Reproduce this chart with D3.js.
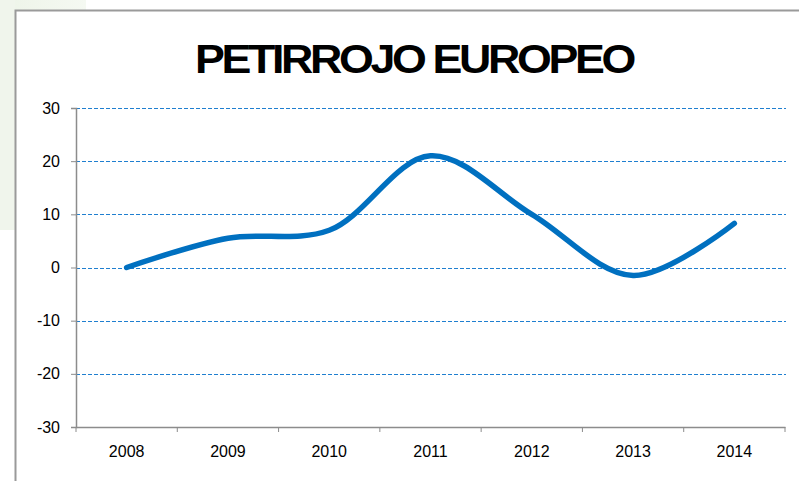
<!DOCTYPE html>
<html>
<head>
<meta charset="utf-8">
<script src="https://cdn.jsdelivr.net/npm/d3@7"></script>
<style>
  body { margin: 0; background: #fff; }
  svg { display: block; font-family: "Liberation Sans", Arial, sans-serif; }
</style>
</head>
<body>
<div id="chart"></div>
<script>
const years = ["2008", "2009", "2010", "2011", "2012", "2013", "2014"];
const values = [0, 5.5, 7, 21, 10, -1.5, 8.3];
const yTicks = [-30, -20, -10, 0, 10, 20, 30];
const title = "PETIRROJO EUROPEO";

const width = 799, height = 481;
const margin = { top: 108, right: 14, bottom: 54, left: 76 };

const svg = d3.select("#chart").append("svg")
  .attr("width", width)
  .attr("height", height);

// faint green background in the top-left corner
const grad = svg.append("defs").append("linearGradient")
  .attr("id", "bg").attr("x1", 0).attr("x2", 1);
grad.append("stop").attr("offset", "0%").attr("stop-color", "#edf4e8");
grad.append("stop").attr("offset", "100%").attr("stop-color", "#f5f9f2");
svg.append("rect").attr("x", 0).attr("y", 0).attr("width", 86).attr("height", 10).attr("fill", "url(#bg)");
svg.append("rect").attr("x", 0).attr("y", 0).attr("width", 15).attr("height", 230).attr("fill", "#f0f5ec");

// chart frame
svg.append("path")
  .attr("d", `M15.5,${height} V10.5 H${width}`)
  .attr("fill", "none")
  .attr("stroke", "#9a9a9a")
  .attr("stroke-width", 2);

const x = d3.scaleBand().domain(years).range([margin.left, width - margin.right]);
const y = d3.scaleLinear().domain([-30, 30]).range([height - margin.bottom, margin.top]);

svg.append("text")
  .attr("x", 195).attr("y", 73)
  .attr("textLength", 438)
  .attr("lengthAdjust", "spacingAndGlyphs")
  .attr("font-size", 40)
  .attr("font-weight", "bold")
  .attr("letter-spacing", -3)
  .attr("fill", "#000")
  .text(title);

// gridlines
svg.append("g")
  .selectAll("line")
  .data(yTicks.filter(d => d !== -30))
  .join("line")
  .attr("x1", margin.left).attr("x2", width - margin.right + 1)
  .attr("y1", d => Math.round(y(d)) + 0.5).attr("y2", d => Math.round(y(d)) + 0.5)
  .attr("stroke", "#1f7fd0")
  .attr("stroke-width", 1)
  .attr("stroke-dasharray", "4,2");

// y axis
const yAxis = svg.append("g")
  .attr("transform", `translate(${margin.left},0)`)
  .call(d3.axisLeft(y).tickValues(yTicks).tickSize(5).tickPadding(11).tickFormat(d => String(d)));
yAxis.select(".domain").attr("stroke", "#8c8c8c").attr("stroke-width", 1.5);
yAxis.selectAll(".tick line").attr("stroke", "#8c8c8c");
yAxis.selectAll("text").attr("font-size", 16).attr("fill", "#000")
  .attr("font-family", "Liberation Sans, Arial, sans-serif");

// x axis
const xAxis = svg.append("g")
  .attr("transform", `translate(0,${y(-30)})`)
  .call(d3.axisBottom(x).tickSize(0).tickPadding(19));
xAxis.select(".domain").attr("stroke", "#8c8c8c").attr("stroke-width", 1.5);
xAxis.selectAll("text").attr("font-size", 16).attr("fill", "#000")
  .attr("font-family", "Liberation Sans, Arial, sans-serif");
xAxis.append("g")
  .selectAll("line")
  .data(years.concat(["end"]))
  .join("line")
  .attr("x1", (d, i) => margin.left + i * x.step())
  .attr("x2", (d, i) => margin.left + i * x.step())
  .attr("y1", 0).attr("y2", 5)
  .attr("stroke", "#8c8c8c");

// smooth series line
const line = d3.line()
  .x((d, i) => x(years[i]) + x.bandwidth() / 2)
  .y(d => y(d))
  .curve(d3.curveCatmullRom.alpha(0.5));

svg.append("path")
  .datum(values)
  .attr("fill", "none")
  .attr("stroke", "#0070c0")
  .attr("stroke-width", 5.5)
  .attr("stroke-linecap", "round")
  .attr("stroke-linejoin", "round")
  .attr("d", line);
</script>
</body>
</html>
